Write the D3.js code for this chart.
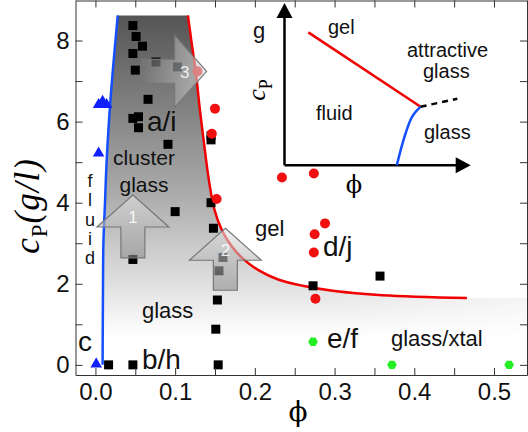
<!DOCTYPE html>
<html>
<head>
<meta charset="utf-8">
<script src="https://cdn.jsdelivr.net/npm/d3@7"></script>
<style>
  body { margin: 0; background: #fff; }
  svg { display: block; font-family: "Liberation Sans", Arial, sans-serif; }
</style>
</head>
<body>
<svg id="chart" width="528" height="432"></svg>
<script>
// ---- data (phi, c_P in g/l) ----
const xTickValues = [0, 0.05, 0.1, 0.15, 0.2, 0.25, 0.3, 0.35, 0.4, 0.45, 0.5];
const yTickValues = [0, 1, 2, 3, 4, 5, 6, 7, 8];

const glassSquares = [
  [0.047, 8.37], [0.051, 8.1], [0.059, 7.86], [0.047, 7.68], [0.050, 7.27],
  [0.076, 7.47], [0.103, 7.35], [0.066, 6.55], [0.047, 6.08], [0.054, 6.12],
  [0.054, 5.85], [0.091, 5.44], [0.145, 5.65], [0.145, 5.55], [0.145, 4.0],
  [0.100, 3.78], [0.148, 3.37], [0.047, 2.6], [0.160, 2.65], [0.155, 2.32],
  [0.153, 1.6], [0.151, 0.88], [0.154, 0], [0.0165, 0], [0.047, 0],
  [0.273, 1.95], [0.357, 2.19]
];
const gelCircles = [
  [0.128, 7.24], [0.150, 6.32], [0.146, 5.7], [0.152, 4.09], [0.234, 4.62],
  [0.274, 4.72], [0.288, 3.49], [0.275, 3.22], [0.274, 2.77], [0.276, 1.63]
];
const fluidTriangles = [[0.004, 6.42], [0.009, 6.5], [0.014, 6.42], [0.004, 5.22], [0.001, 0.02]];
const crystalHexagons = [[0.273, 0.57], [0.372, 0], [0.519, 0]];

// glass line (blue) and gel line (red)
const glassLine = [[0.009, 0], [0.0095, 2], [0.010, 3], [0.012, 4], [0.014, 5], [0.018, 6.3], [0.022, 7.3], [0.028, 8.62]];
const gelLine = [
  [0.116, 8.62], [0.121, 7.9], [0.126, 7.2], [0.131, 6.3], [0.136, 5.5], [0.142, 4.6],
  [0.149, 3.85], [0.158, 3.35], [0.170, 2.95], [0.185, 2.62], [0.205, 2.33], [0.23, 2.1],
  [0.26, 1.95], [0.3, 1.82], [0.36, 1.72], [0.466, 1.65]
];

// arrows: tip and tail in data units
const arrows = [
  { label: '1', dir: 'up', tip: [0.047, 4.19], tail: 2.64 },
  { label: '2', dir: 'up', tip: [0.163, 3.37], tail: 1.84 },
  { label: '3', dir: 'right', tip: [0.1395, 7.24], tail: 0.058 }
];

// inset schematic (unit coordinates)
const insetGel = [[0.128, 0.819], [0.731, 0.361]];
const insetGlass = [[0.603, 0], [0.624, 0.094], [0.651, 0.199], [0.685, 0.299], [0.731, 0.361]];
const insetAttractive = [[0.731, 0.361], [0.928, 0.41]];

const svg = d3.select('#chart');

const x = d3.scaleLinear().domain([-0.025, 0.5414]).range([75.5, 527]);
const y = d3.scaleLinear().domain([-0.25, 9]).range([375, 0]);

const defs = svg.append('defs');

// vertical grey gradient for the glass region
const grad = defs.append('linearGradient')
  .attr('id', 'region')
  .attr('gradientUnits', 'userSpaceOnUse')
  .attr('x1', 0).attr('x2', 0)
  .attr('y1', y(8.62)).attr('y2', y(0.7));
grad.append('stop').attr('offset', 0).attr('stop-color', '#555');
grad.append('stop').attr('offset', 0.55).attr('stop-color', '#aaa');
grad.append('stop').attr('offset', 1).attr('stop-color', '#fff');

// fade the region out towards the right edge
const fadeGrad = defs.append('linearGradient')
  .attr('id', 'fade')
  .attr('gradientUnits', 'userSpaceOnUse')
  .attr('x1', x(0.3)).attr('x2', x(0.54)).attr('y1', 0).attr('y2', 0);
fadeGrad.append('stop').attr('offset', 0).attr('stop-color', '#fff');
fadeGrad.append('stop').attr('offset', 1).attr('stop-color', '#000');
defs.append('mask').attr('id', 'fadeMask')
  .append('rect').attr('x', 0).attr('y', 0).attr('width', 528).attr('height', 432)
  .attr('fill', 'url(#fade)');
// mask is white (visible) on the left, darker on the right
fadeGrad.selectAll('stop').attr('stop-color', (d, i) => (i === 0 ? '#fff' : '#777'));

const arrowGrad = defs.append('linearGradient')
  .attr('id', 'arrowFill')
  .attr('x1', 0).attr('x2', 0).attr('y1', 0).attr('y2', 1);
arrowGrad.append('stop').attr('offset', 0).attr('stop-color', '#e6e6e6');
arrowGrad.append('stop').attr('offset', 1).attr('stop-color', '#8a8a8a');

const arrowGradH = defs.append('linearGradient')
  .attr('id', 'arrowFillH')
  .attr('x1', 0).attr('x2', 1).attr('y1', 0).attr('y2', 0);
arrowGradH.append('stop').attr('offset', 0).attr('stop-color', '#777');
arrowGradH.append('stop').attr('offset', 1).attr('stop-color', '#ddd');

// filled region between the two lines
const region = glassLine.concat(gelLine)
  .concat([[0.5414, 1.65], [0.5414, 0.4], [0.009, 0.4]]);
svg.append('path')
  .attr('d', d3.line().x((d) => x(d[0])).y((d) => y(d[1]))(region) + 'Z')
  .attr('fill', 'url(#region)')
  .attr('mask', 'url(#fadeMask)');

// lines
const curve = d3.line().x((d) => x(d[0])).y((d) => y(d[1])).curve(d3.curveCatmullRom);
svg.append('path').attr('d', curve(glassLine))
  .attr('fill', 'none').attr('stroke', '#1450ff').attr('stroke-width', 2.5);
svg.append('path').attr('d', curve(gelLine))
  .attr('fill', 'none').attr('stroke', '#f00000').attr('stroke-width', 2.5);

// markers
svg.selectAll('path.sq').data(glassSquares).enter().append('path')
  .attr('class', 'sq')
  .attr('d', d3.symbol(d3.symbolSquare, 81))
  .attr('transform', (d) => `translate(${x(d[0])},${y(d[1])})`)
  .attr('fill', '#000');

svg.selectAll('circle.gel').data(gelCircles).enter().append('circle')
  .attr('class', 'gel')
  .attr('cx', (d) => x(d[0])).attr('cy', (d) => y(d[1])).attr('r', 5)
  .attr('fill', '#f01010');

svg.selectAll('path.tri').data(fluidTriangles).enter().append('path')
  .attr('class', 'tri')
  .attr('d', d3.symbol(d3.symbolTriangle, 58))
  .attr('transform', (d) => `translate(${x(d[0])},${y(d[1])})`)
  .attr('fill', '#1020ff');

const hexPath = d3.line()(d3.range(6).map((i) => {
  const a = Math.PI / 3 * i;
  return [4.8 * Math.cos(a), 4.8 * Math.sin(a)];
})) + 'Z';
svg.selectAll('path.hex').data(crystalHexagons).enter().append('path')
  .attr('class', 'hex')
  .attr('d', hexPath)
  .attr('transform', (d) => `translate(${x(d[0])},${y(d[1])})`)
  .attr('fill', '#22ee22');

// block arrows
function arrowPath(a) {
  const hw = 36, hl = 32, sw = 12;
  const tx = x(a.tip[0]), ty = y(a.tip[1]);
  if (a.dir === 'up') {
    const ty2 = y(a.tail);
    return `M${tx},${ty}L${tx + hw},${ty + hl}L${tx + sw},${ty + hl}L${tx + sw},${ty2}` +
      `L${tx - sw},${ty2}L${tx - sw},${ty + hl}L${tx - hw},${ty + hl}Z`;
  }
  const tx2 = x(a.tail);
  return `M${tx},${ty}L${tx - hl},${ty - hw}L${tx - hl},${ty - sw}L${tx2},${ty - sw}` +
    `L${tx2},${ty + sw}L${tx - hl},${ty + sw}L${tx - hl},${ty + hw}Z`;
}
const arrowG = svg.selectAll('g.arrow').data(arrows).enter().append('g').attr('class', 'arrow');
arrowG.append('path')
  .attr('d', arrowPath)
  .attr('fill', (d) => (d.dir === 'up' ? 'url(#arrowFill)' : 'url(#arrowFillH)'))
  .attr('fill-opacity', 0.6)
  .attr('stroke', '#777')
  .attr('stroke-width', 1.2);
arrowG.append('text')
  .attr('x', (d) => (d.dir === 'up' ? x(d.tip[0]) : x(d.tip[0]) - 22))
  .attr('y', (d) => (d.dir === 'up' ? y(d.tip[1]) + 28 : y(d.tip[1]) + 7))
  .attr('text-anchor', 'middle')
  .attr('font-size', 17)
  .attr('fill', '#fff')
  .attr('fill-opacity', 0.85)
  .text((d) => d.label);

// annotations
const notes = [
  { t: 'a/i', x: 147, y: 131, s: 28 },
  { t: 'cluster', x: 144, y: 165, s: 21, a: 'middle' },
  { t: 'glass', x: 144, y: 192, s: 21, a: 'middle' },
  { t: 'glass', x: 142, y: 318, s: 22 },
  { t: 'gel', x: 255, y: 236, s: 22 },
  { t: 'c', x: 78, y: 351, s: 28 },
  { t: 'b/h', x: 142, y: 369, s: 28 },
  { t: 'd/j', x: 323, y: 256, s: 28 },
  { t: 'e/f', x: 327, y: 348, s: 28 },
  { t: 'glass/xtal', x: 391, y: 346, s: 22 }
];
svg.selectAll('text.note').data(notes).enter().append('text')
  .attr('class', 'note')
  .attr('x', (d) => d.x).attr('y', (d) => d.y)
  .attr('text-anchor', (d) => d.a || 'start')
  .attr('font-size', (d) => d.s)
  .attr('fill', '#111')
  .text((d) => d.t);

// vertical "fluid"
svg.selectAll('text.fluid').data('fluid'.split('')).enter().append('text')
  .attr('class', 'fluid')
  .attr('x', 90).attr('y', (d, i) => 187 + i * 19.3)
  .attr('text-anchor', 'middle')
  .attr('font-size', 18)
  .attr('fill', '#111')
  .text((d) => d);

// axes
const fmtX = (v) => (Math.abs(v * 10 - Math.round(v * 10)) < 1e-6 ? d3.format('.1f')(v) : '');
const fmtY = (v) => (v % 2 === 0 ? String(v) : '');

function styleAxis(g) {
  g.selectAll('path.domain').attr('stroke', '#333');
  g.selectAll('line').attr('stroke', '#333');
  g.selectAll('text').attr('font-size', 24).attr('fill', '#111')
    .attr('font-family', '"Liberation Sans", Arial, sans-serif');
}

svg.append('g').attr('transform', `translate(0,${y(-0.25)})`)
  .call(d3.axisBottom(x).tickValues(xTickValues).tickFormat(fmtX).tickSizeInner(-7).tickSizeOuter(0).tickPadding(8))
  .call(styleAxis);
svg.append('g').attr('transform', `translate(0,${y(9) + 0.5})`)
  .call(d3.axisTop(x).tickValues(xTickValues).tickFormat('').tickSizeInner(-7).tickSizeOuter(0))
  .call(styleAxis);
svg.append('g').attr('transform', `translate(${x(-0.025)},0)`)
  .call(d3.axisLeft(y).tickValues(yTickValues).tickFormat(fmtY).tickSizeInner(-7).tickSizeOuter(0).tickPadding(6))
  .call(styleAxis);
svg.append('g').attr('transform', `translate(${x(0.5414)},0)`)
  .call(d3.axisRight(y).tickValues(yTickValues).tickFormat('').tickSizeInner(-7).tickSizeOuter(0))
  .call(styleAxis);

// axis titles
svg.append('text')
  .attr('x', 298).attr('y', 421)
  .attr('text-anchor', 'middle')
  .attr('font-family', '"DejaVu Serif", "Liberation Serif", serif')
  .attr('font-size', 28)
  .text('\u03D5');

const yl = svg.append('text')
  .attr('transform', 'translate(39,206) rotate(-90)')
  .attr('text-anchor', 'middle')
  .attr('font-family', '"Liberation Serif", "Times New Roman", serif')
  .attr('font-size', 35)
  .attr('letter-spacing', 1);
yl.append('tspan').attr('font-style', 'italic').text('c');
yl.append('tspan').attr('dy', 8).attr('font-size', 23).text('P');
yl.append('tspan').attr('dy', -8).attr('font-style', 'italic').text('(g/l)');

// inset schematic
const ix = d3.scaleLinear().domain([0, 1]).range([284.5, 470.7]);
const iy = d3.scaleLinear().domain([0, 1]).range([165.3, 3]);
const inset = svg.append('g');
const iline = d3.line().x((d) => ix(d[0])).y((d) => iy(d[1]));

inset.append('path').attr('d', iline([[0, 0], [0, 0.92]]))
  .attr('stroke', '#000').attr('stroke-width', 2.5).attr('fill', 'none');
inset.append('path').attr('d', iline([[0, 0], [0.93, 0]]))
  .attr('stroke', '#000').attr('stroke-width', 2.5).attr('fill', 'none');
inset.append('path')
  .attr('d', `M${ix(0)},${iy(1)}L${ix(0) + 8},${iy(1) + 15}L${ix(0) - 8},${iy(1) + 15}Z`)
  .attr('fill', '#000');
inset.append('path')
  .attr('d', `M${ix(1)},${iy(0)}L${ix(1) - 15},${iy(0) - 8}L${ix(1) - 15},${iy(0) + 8}Z`)
  .attr('fill', '#000');

inset.append('path').attr('d', iline(insetGel))
  .attr('stroke', '#f00000').attr('stroke-width', 2.5).attr('fill', 'none');
inset.append('path').attr('d', iline.curve(d3.curveCatmullRom)(insetGlass))
  .attr('stroke', '#1450ff').attr('stroke-width', 2.5).attr('fill', 'none');
inset.append('path').attr('d', d3.line().x((d) => ix(d[0])).y((d) => iy(d[1]))(insetAttractive))
  .attr('stroke', '#000').attr('stroke-width', 2.5).attr('stroke-dasharray', '6,5').attr('fill', 'none');

const insetNotes = [
  { t: 'gel', x: 328, y: 34, s: 20 },
  { t: 'attractive', x: 407, y: 57, s: 20 },
  { t: 'glass', x: 423, y: 78, s: 20 },
  { t: 'fluid', x: 316, y: 120, s: 20 },
  { t: 'glass', x: 424, y: 139, s: 20 },
  { t: 'g', x: 253, y: 38, s: 22 }
];
inset.selectAll('text.inote').data(insetNotes).enter().append('text')
  .attr('class', 'inote')
  .attr('x', (d) => d.x).attr('y', (d) => d.y)
  .attr('font-size', (d) => d.s)
  .attr('fill', '#111')
  .text((d) => d.t);

inset.append('text')
  .attr('x', 354).attr('y', 193)
  .attr('text-anchor', 'middle')
  .attr('font-family', '"DejaVu Serif", "Liberation Serif", serif')
  .attr('font-size', 24)
  .text('\u03D5');

const icp = inset.append('text')
  .attr('transform', 'translate(265,90) rotate(-90)')
  .attr('text-anchor', 'middle')
  .attr('font-family', '"Liberation Serif", "Times New Roman", serif')
  .attr('font-size', 26);
icp.append('tspan').attr('font-style', 'italic').text('c');
icp.append('tspan').attr('dy', 7).attr('font-size', 18).text('P');
</script>
</body>
</html>
